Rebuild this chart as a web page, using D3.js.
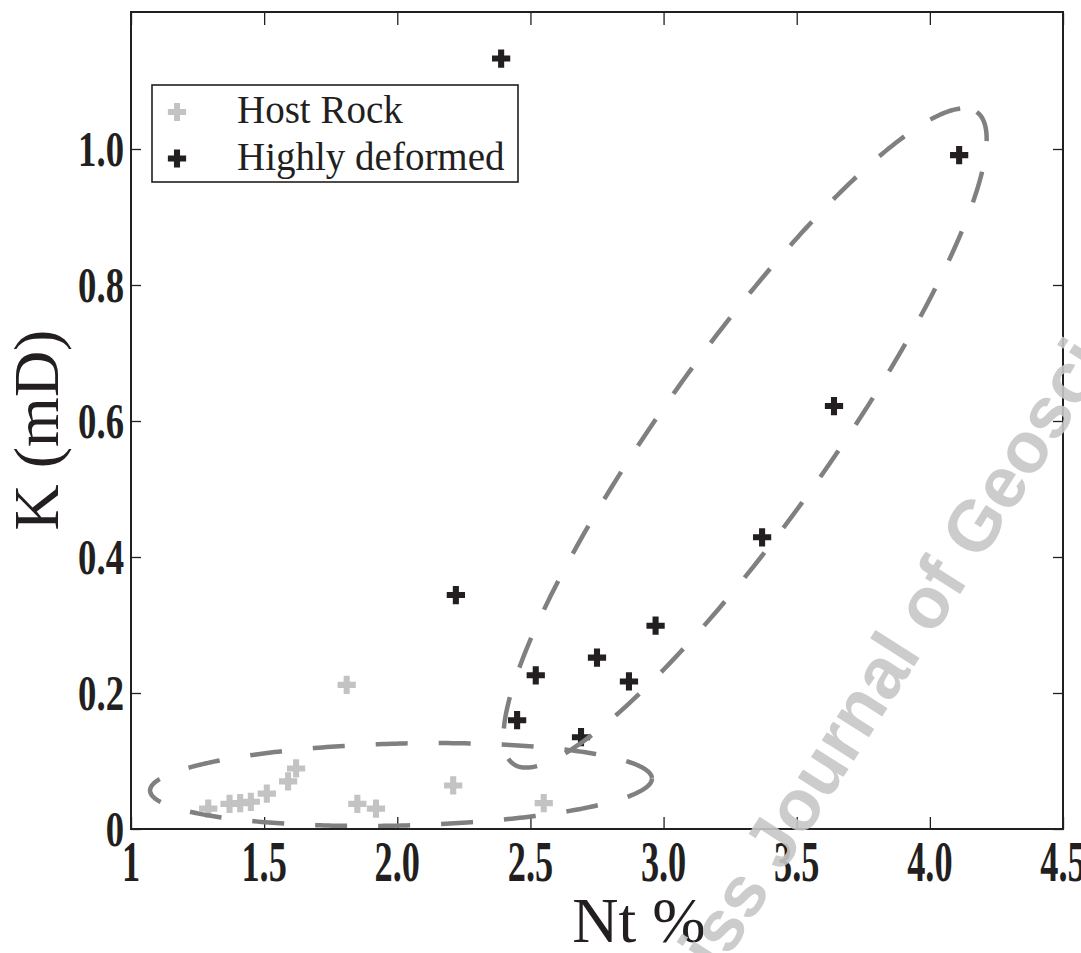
<!DOCTYPE html>
<html>
<head>
<meta charset="utf-8">
<script src="https://cdn.jsdelivr.net/npm/d3@7/dist/d3.min.js"></script>
<style>
  html, body { margin: 0; padding: 0; background: #ffffff; }
  svg { display: block; }
</style>
</head>
<body>
<div id="chart"></div>
<script>
// ---------------- data ----------------
const hostNt = [1.29, 1.37, 1.41, 1.45, 1.51, 1.59, 1.62, 1.81, 1.85, 1.92, 2.21, 2.55];
const hostK  = [0.030, 0.037, 0.038, 0.040, 0.052, 0.070, 0.089, 0.212, 0.037, 0.030, 0.064, 0.038];

const defNt = [2.39, 4.11, 3.64, 3.37, 2.22, 2.97, 2.75, 2.52, 2.87, 2.45, 2.69];
const defK  = [1.133, 0.991, 0.622, 0.429, 0.344, 0.299, 0.252, 0.226, 0.217, 0.160, 0.135];

const seriesNames = ["Host Rock", "Highly deformed"];

const xTicks = [1, 1.5, 2.0, 2.5, 3.0, 3.5, 4.0, 4.5];
const xTickLabels = ["1", "1.5", "2.0", "2.5", "3.0", "3.5", "4.0", "4.5"];
const yTicks = [0, 0.2, 0.4, 0.6, 0.8, 1.0];
const yTickLabels = ["0", "0.2", "0.4", "0.6", "0.8", "1.0"];

// dashed grouping ellipses: centre (Nt, K), semi-axes in Nt units, screen angle (deg)
const ellipseCentres = [[2.014, 0.0654], [3.306, 0.575]];
const ellipseSemiAxes = [[0.9426, 0.154], [1.502, 0.3154]];
const ellipseAngles = [-1.4, -54.6];

const xLabel = "Nt %";
const yLabel = "K (mD)";
const watermark = "Swiss Journal of Geosciences";

// ---------------- layout ----------------
const W = 1081, H = 953;
const L = 131, R = 1063, T = 13, B = 829;

const svg = d3.select("#chart").append("svg")
  .attr("width", W).attr("height", H)
  .style("background", "#ffffff");

const x = d3.scaleLinear().domain([1, 4.5]).range([L, R]);
const y = d3.scaleLinear().domain([0, 1.2]).range([B, T]);

const ink = "#231f20";
const serif = "'Liberation Serif','Times New Roman',serif";

// axes with inward ticks (box style)
const xAxisB = d3.axisBottom(x).tickValues(xTicks).tickSize(-12).tickFormat("");
const xAxisT = d3.axisTop(x).tickValues(xTicks).tickSize(-12).tickFormat("");
const yAxisL = d3.axisLeft(y).tickValues(yTicks).tickSize(-10).tickFormat("");
const yAxisR = d3.axisRight(y).tickValues(yTicks).tickSize(-10).tickFormat("");

function styleAxis(g) {
  g.select(".domain").remove();
  g.selectAll(".tick line").attr("stroke", ink).attr("stroke-width", 1.3);
}
svg.append("g").attr("transform", `translate(0,${B})`).call(xAxisB).call(styleAxis);
svg.append("g").attr("transform", `translate(0,${T})`).call(xAxisT).call(styleAxis);
svg.append("g").attr("transform", `translate(${L},0)`).call(yAxisL).call(styleAxis);
svg.append("g").attr("transform", `translate(${R},0)`).call(yAxisR).call(styleAxis);

// tick labels
svg.append("g").selectAll("text").data(xTicks).join("text")
  .attr("transform", d => `translate(${x(d)},881) scale(0.66,1.02)`)
  .attr("text-anchor", "middle")
  .attr("font-family", serif).attr("font-weight", "bold").attr("font-size", 55)
  .attr("fill", ink)
  .text((d, i) => xTickLabels[i]);

svg.append("g").selectAll("text").data(yTicks).join("text")
  .attr("transform", d => `translate(124,${y(d) + 17}) scale(0.72,1)`)
  .attr("text-anchor", "end")
  .attr("font-family", serif).attr("font-weight", "bold").attr("font-size", 51)
  .attr("fill", ink)
  .text((d, i) => yTickLabels[i]);

// axis titles
svg.append("text")
  .attr("x", (L + R) / 2 + 42).attr("y", 942)
  .attr("text-anchor", "middle")
  .attr("font-family", serif).attr("font-size", 64)
  .attr("fill", ink)
  .text(xLabel);

svg.append("text")
  .attr("transform", `translate(58,430) rotate(-90)`)
  .attr("text-anchor", "middle")
  .attr("font-family", serif).attr("font-size", 64)
  .attr("fill", ink)
  .text(yLabel);

// markers
const cross = d3.symbol().type(d3.symbolCross).size(185);
const hostColor = "#c3c3c3";
const defColor = ink;

svg.append("g").selectAll("path").data(hostNt).join("path")
  .attr("d", cross)
  .attr("transform", (d, i) => `translate(${x(d)},${y(hostK[i])})`)
  .attr("fill", hostColor);

svg.append("g").selectAll("path").data(defNt).join("path")
  .attr("d", cross)
  .attr("transform", (d, i) => `translate(${x(d)},${y(defK[i])})`)
  .attr("fill", defColor);

// dashed ellipses
const unit = x(2) - x(1);
const line = d3.line();
ellipseCentres.forEach((c, k) => {
  const cx = x(c[0]), cy = y(c[1]);
  const a = ellipseSemiAxes[k][0] * unit, b = ellipseSemiAxes[k][1] * unit;
  const th = ellipseAngles[k] * Math.PI / 180;
  const pts = d3.range(0, 361).map(deg => {
    const t = deg * Math.PI / 180;
    const ex = a * Math.cos(t), ey = b * Math.sin(t);
    return [cx + ex * Math.cos(th) - ey * Math.sin(th), cy + ex * Math.sin(th) + ey * Math.cos(th)];
  });
  svg.append("path")
    .attr("d", line(pts))
    .attr("fill", "none")
    .attr("stroke", "#808080")
    .attr("stroke-width", 4.5)
    .attr("stroke-dasharray", "32,31");
});

// frame
svg.append("rect")
  .attr("x", L).attr("y", T - 1).attr("width", R - L).attr("height", B - T + 1)
  .attr("fill", "none").attr("stroke", ink).attr("stroke-width", 2);

// legend
const lg = svg.append("g");
lg.append("rect")
  .attr("x", 152).attr("y", 85).attr("width", 366).attr("height", 97)
  .attr("fill", "#ffffff").attr("stroke", ink).attr("stroke-width", 1.6);
const legendColors = [hostColor, defColor];
seriesNames.forEach((name, i) => {
  const yy = 112 + i * 46.5;
  lg.append("path").attr("d", cross)
    .attr("transform", `translate(177,${yy})`)
    .attr("fill", legendColors[i]);
  lg.append("text")
    .attr("x", 237).attr("y", yy + 11)
    .attr("font-family", serif).attr("font-size", 39)
    .attr("fill", ink)
    .text(name);
});

// watermark
svg.append("text")
  .attr("transform", "translate(662,1062) rotate(-57.5)")
  .attr("font-family", "'Liberation Sans', Arial, sans-serif")
  .attr("font-weight", "bold").attr("font-size", 72)
  .attr("fill", "#c6c6c6").attr("fill-opacity", 0.9)
  .text(watermark);
</script>
</body>
</html>
